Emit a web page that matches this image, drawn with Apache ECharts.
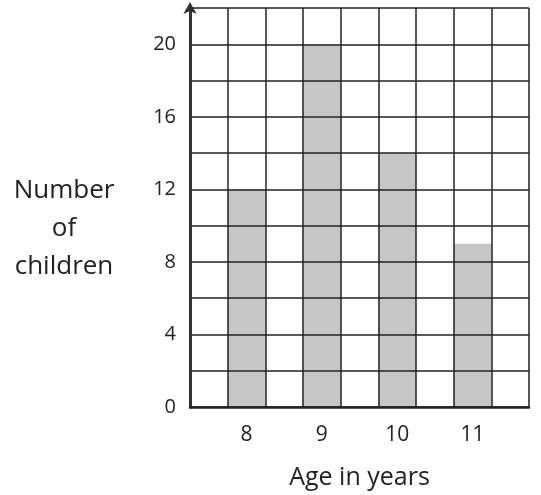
<!DOCTYPE html>
<html>
<head>
<meta charset="utf-8">
<script src="https://cdn.jsdelivr.net/npm/echarts@6/dist/echarts.min.js"></script>
<style>
html, body { margin: 0; padding: 0; background: #fff; }
#chart { width: 541px; height: 495px; }
</style>
</head>
<body>
<div id="chart"></div>
<script>
//--------------------------------
// Data
//--------------------------------
const ages = ['8', '9', '10', '11'];
const children = [12, 20, 14, 9];
const yTicks = [0, 4, 8, 12, 16, 20];

// every age sits in its own column with an empty column either side
let cats = [''];
let vals = [null];
ages.forEach((a, i) => {
    cats.push(a, '');
    vals.push(children[i], null);
});

const myChart = echarts.init(document.getElementById('chart'));

let options = {
    animation: false,
    textStyle: { fontFamily: 'Open Sans' },
    grid: { left: 190, right: 12, top: 8, bottom: 85 },
    xAxis: {
        type: 'category',
        data: cats,
        boundaryGap: true,
        z: 5,
        axisLine: { lineStyle: { color: '#222', width: 2.5 } },
        axisTick: { show: false },
        axisLabel: {
            interval: 0, color: '#222', fontSize: 21, margin: 18,
            fontFamily: 'Open Sans'
        },
        splitLine: {
            show: true, interval: 0,
            lineStyle: { color: '#222', width: 1.5 }
        },
        name: 'Age in years',
        nameLocation: 'middle',
        nameGap: 58,
        nameTextStyle: { fontSize: 25, color: '#222', fontFamily: 'Open Sans' }
    },
    yAxis: {
        type: 'value',
        min: 0, max: 22, interval: 2,
        z: 5,
        axisLine: {
            show: true, symbol: ['none', 'arrow'], symbolSize: [10, 12],
            symbolOffset: [0, 6],
            lineStyle: { color: '#333', width: 3 }
        },
        axisTick: { show: false },
        axisLabel: {
            color: '#222', fontSize: 20, margin: 14, fontFamily: 'Open Sans',
            formatter: (v) => yTicks.includes(v) ? String(v) : ''
        },
        splitLine: { show: true, lineStyle: { color: '#222', width: 1.5 } }
    },
    graphic: [
        {
            type: 'text', x: 64, y: 172,
            style: {
                text: 'Number\nof\nchildren', textAlign: 'center',
                fill: '#222', fontSize: 26, lineHeight: 38,
                fontFamily: 'Open Sans'
            }
        }
    ],
    series: [
        {
            type: 'bar',
            data: vals,
            barWidth: '100%',
            itemStyle: { color: '#c6c6c6' }
        }
    ]
};
myChart.setOption(options);
</script>
</body>
</html>
